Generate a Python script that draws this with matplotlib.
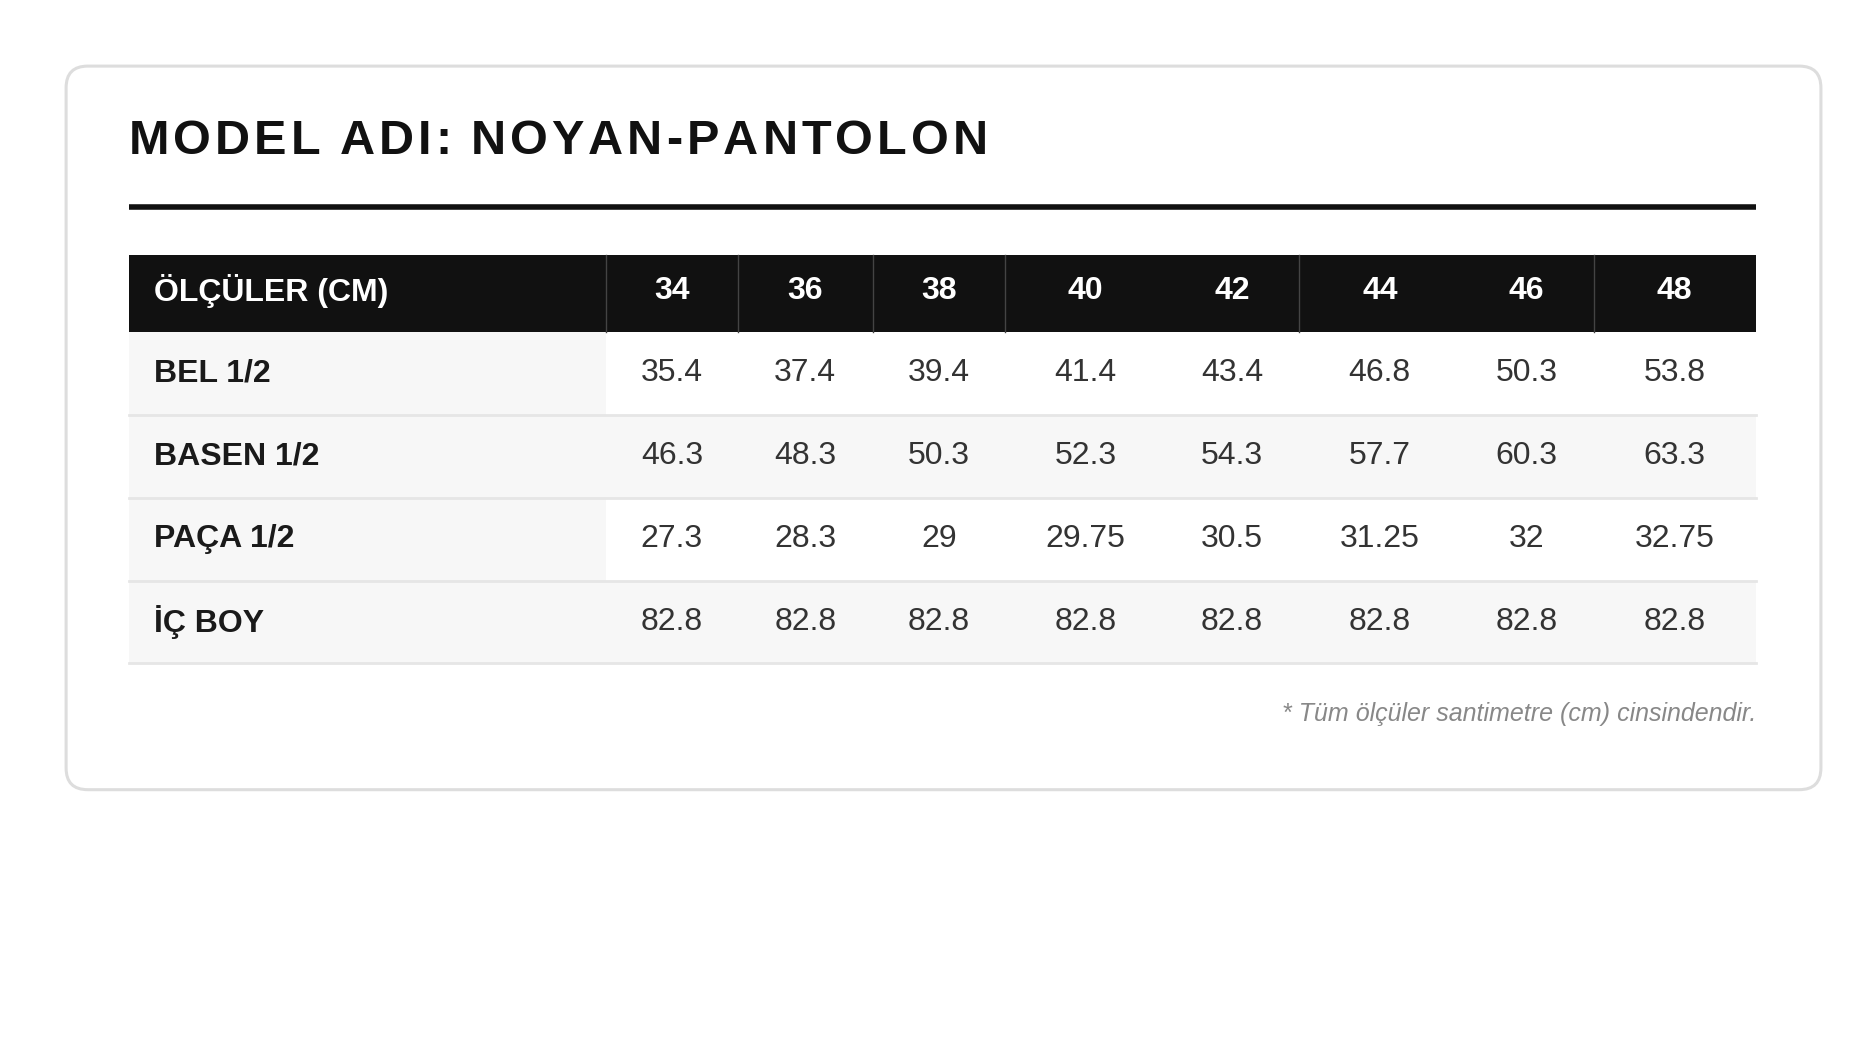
import matplotlib
matplotlib.use("Agg")
import matplotlib.pyplot as plt
from matplotlib.patches import FancyBboxPatch, Rectangle

title = "MODEL ADI: NOYAN-PANTOLON"
header_label = "ÖLÇÜLER (CM)"
sizes = ["34", "36", "38", "40", "42", "44", "46", "48"]
row_labels = ["BEL 1/2", "BASEN 1/2", "PAÇA 1/2", "İÇ BOY"]
bel = ["35.4", "37.4", "39.4", "41.4", "43.4", "46.8", "50.3", "53.8"]
basen = ["46.3", "48.3", "50.3", "52.3", "54.3", "57.7", "60.3", "63.3"]
paca = ["27.3", "28.3", "29", "29.75", "30.5", "31.25", "32", "32.75"]
icboy = ["82.8", "82.8", "82.8", "82.8", "82.8", "82.8", "82.8", "82.8"]
values = [bel, basen, paca, icboy]
note = "* Tüm ölçüler santimetre (cm) cinsindendir."

plt.rcParams['font.family'] = ['Liberation Sans', 'DejaVu Sans']
W, H = 1560, 884.4
fig = plt.figure(figsize=(18.75, 10.63), dpi=100)
ax = fig.add_axes([0, 0, 1, 1])
ax.set_xlim(0, W); ax.set_ylim(H, 0); ax.axis('off')

ax.add_patch(FancyBboxPatch((55, 55), 1460, 602, boxstyle="round,pad=0,rounding_size=18",
                            fc='white', ec='#dddddd', lw=2.2))

# title with letter spacing
fig.canvas.draw()
r = fig.canvas.get_renderer()
x = 107
inv = ax.transData.inverted()
for ch in title:
    t = ax.text(x, 118, ch, fontsize=35, fontweight='bold', color='#111111', va='center', ha='left')
    bb = t.get_window_extent(r)
    w = inv.transform((bb.x1, 0))[0] - inv.transform((bb.x0, 0))[0]
    if ch == ' ':
        w = 9
    x += w + 3.4
ax.plot([107, 1461], [172, 172], color='#111111', lw=4, solid_capstyle='butt')

edges = [107, 504, 614, 726, 836, 958.5, 1081, 1203.5, 1326, 1461]
centers = [559, 670, 781, 903, 1025, 1148, 1270, 1393]
ax.add_patch(Rectangle((107, 212), 1354, 64, fc='#111111', ec='none'))
for xe in [504, 614, 726, 836, 1081, 1326]:
    ax.plot([xe, xe], [212, 276], color='#444444', lw=1)
ax.text(128, 242, header_label, fontsize=23, fontweight='bold', color='white', va='center')
for c, s in zip(centers, sizes):
    ax.text(c, 242, s, fontsize=23, fontweight='bold', color='white', va='center', ha='center')

rh = 69
for i, (lab, vals) in enumerate(zip(row_labels, values)):
    y0 = 276 + i * rh
    ax.add_patch(Rectangle((107, y0), 397, rh, fc='#f7f7f7', ec='none'))
    ax.add_patch(Rectangle((504, y0), 957, rh, fc='#f7f7f7' if i % 2 else 'white', ec='none'))
    ax.plot([107, 1461], [y0 + rh, y0 + rh], color='#e6e6e6', lw=2)
    yc = y0 + rh / 2
    ax.text(128, yc, lab, fontsize=23, fontweight='bold', color='#1a1a1a', va='center')
    for c, v in zip(centers, vals):
        ax.text(c, yc, v, fontsize=23, color='#333333', va='center', ha='center')

ax.text(1461, 594, note, fontsize=18, style='italic', color='#888888', va='center', ha='right')

fig.savefig("out.png", dpi=100, facecolor='white')
